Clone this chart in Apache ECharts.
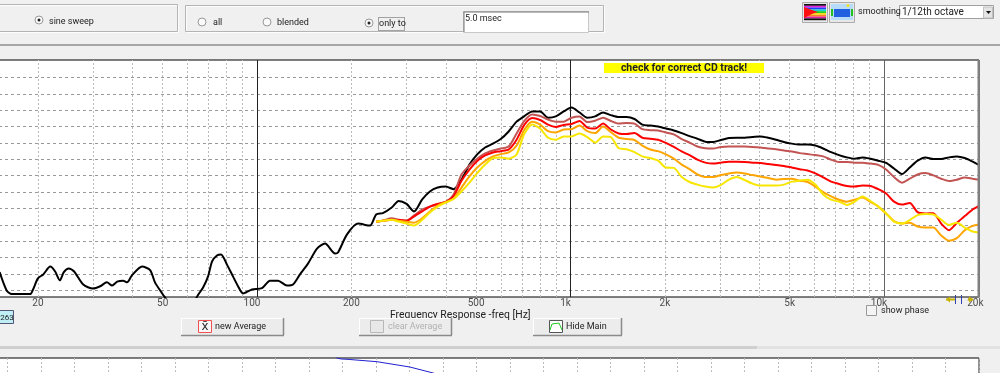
<!DOCTYPE html>
<html>
<head>
<meta charset="utf-8">
<style>
  html, body { margin: 0; padding: 0; background: #f0f0f0; }
  #chart { width: 1000px; height: 373px; }
</style>
<script src="https://cdn.jsdelivr.net/npm/echarts@6/dist/echarts.min.js"></script>
</head>
<body>
<div id="chart"></div>
<script>
// 1/12 octave frequencies shared by the measured curves [Hz]
var freqs = [240, 252, 269, 283, 300, 317, 336, 356, 377, 400,
  424, 449, 476, 504, 534, 566, 599, 635, 673, 713,
  755, 800, 848, 898, 951, 1008, 1068, 1131, 1199, 1270,
  1345, 1425, 1510, 1600, 1695, 1796, 1903, 2016, 2136, 2263,
  2397, 2540, 2691, 2851, 3020, 3200, 3390, 3592, 3805, 4032,
  4271, 4525, 4794, 5080, 5382, 5702, 6041, 6400, 6780, 7184,
  7611, 8063, 8543, 9051, 9589, 10159, 10763, 11404, 12082, 12800,
  13562, 14369, 15222, 16127, 17085, 18102, 19180, 20095];

var black = [23.2, 23.6, 25.3, 27.3, 26.4, 24.1, 27.7, 30.2, 31.4, 31.7,
  30.9, 33.8, 38.4, 41.5, 43.6, 44.8, 46.2, 48.5, 51.5, 53.2,
  54.6, 54.6, 52.7, 53.1, 54.6, 55.8, 54.3, 52.7, 53.1, 54.3,
  53.5, 52.9, 52.9, 52.3, 50.6, 50.3, 50.0, 49.4, 48.8, 48.0,
  47.1, 46.3, 45.4, 45.3, 45.9, 46.5, 46.6, 46.6, 46.8, 47.0,
  46.6, 46.0, 45.3, 44.8, 44.5, 44.5, 44.2, 43.3, 42.2, 41.3,
  40.6, 40.2, 40.6, 40.2, 39.6, 38.9, 37.2, 35.5, 37.5, 39.6,
  40.6, 40.1, 40.1, 40.6, 40.9, 40.4, 39.3, 38.3];

var rose = [21.0, 21.3, 22.0, 21.6, 21.3, 22.9, 24.7, 25.6, 26.4, 27.0,
  29.3, 35.4, 38.1, 40.2, 41.8, 42.7, 43.3, 43.9, 47.9, 51.8,
  53.7, 53.2, 52.1, 51.5, 51.5, 52.7, 53.1, 51.4, 51.8, 52.7,
  51.7, 50.9, 51.1, 50.9, 49.2, 48.9, 48.8, 48.2, 47.6, 46.2,
  45.1, 43.9, 43.4, 43.3, 43.8, 43.9, 43.9, 43.9, 43.8, 43.6,
  43.3, 43.1, 42.7, 42.4, 41.9, 41.6, 41.3, 40.9, 39.9, 39.2,
  39.2, 39.0, 39.0, 38.7, 38.3, 36.9, 34.6, 32.9, 34.1, 35.4,
  35.8, 35.1, 34.1, 33.4, 33.8, 34.5, 34.1, 33.8];

var red = [21.0, 21.3, 21.6, 21.5, 21.3, 22.6, 24.1, 25.6, 26.4, 27.0,
  28.8, 33.5, 36.9, 39.5, 41.2, 42.1, 42.5, 43.0, 46.0, 50.6,
  52.6, 52.0, 50.6, 49.9, 50.5, 50.8, 51.7, 49.7, 49.4, 50.9,
  49.1, 47.9, 47.7, 48.0, 46.6, 46.3, 46.0, 45.0, 43.8, 42.4,
  41.3, 39.9, 39.0, 38.7, 39.0, 39.3, 39.3, 39.2, 39.0, 38.9,
  38.6, 38.3, 38.0, 37.5, 37.0, 36.6, 35.7, 34.5, 33.2, 32.5,
  31.9, 31.7, 32.0, 31.9, 30.9, 29.6, 27.1, 26.2, 26.7, 23.9,
  23.5, 23.6, 20.4, 18.4, 20.7, 22.7, 24.7, 25.8];

var orange = [21.0, 21.3, 21.6, 21.3, 21.0, 20.7, 22.0, 24.1, 25.9, 27.0,
  28.1, 31.4, 34.8, 37.5, 39.5, 40.9, 41.6, 42.1, 44.2, 49.1,
  51.5, 50.6, 48.6, 48.2, 49.1, 49.2, 50.3, 48.6, 48.0, 50.0,
  48.3, 46.6, 46.2, 45.9, 44.2, 43.0, 42.5, 41.5, 40.2, 38.4,
  37.0, 35.4, 34.6, 34.6, 35.2, 35.7, 36.0, 35.7, 35.2, 34.8,
  34.3, 33.8, 34.0, 34.1, 33.5, 33.1, 31.7, 30.0, 28.7, 27.7,
  27.1, 27.7, 28.4, 27.0, 25.6, 23.5, 21.2, 20.4, 20.7, 19.5,
  19.2, 19.2, 16.8, 15.2, 16.0, 18.4, 19.7, 20.1];

var yellow = [21.0, 21.3, 21.6, 21.0, 20.4, 19.8, 21.5, 23.8, 25.6, 26.8,
  27.9, 30.2, 32.9, 35.8, 38.4, 40.4, 40.6, 40.2, 41.5, 47.9,
  50.6, 49.4, 46.6, 46.0, 47.0, 47.0, 47.9, 46.8, 45.1, 47.0,
  46.8, 43.4, 43.1, 42.2, 40.9, 40.4, 39.6, 37.5, 37.4, 34.6,
  33.1, 32.3, 31.7, 31.4, 32.2, 33.8, 34.6, 33.7, 32.6, 32.0,
  32.0, 32.0, 32.3, 33.2, 33.5, 33.8, 32.3, 29.3, 27.7, 27.1,
  26.1, 27.1, 28.7, 27.3, 25.6, 23.5, 21.0, 20.4, 21.5, 23.0,
  23.3, 23.2, 21.6, 20.0, 20.7, 19.2, 18.0, 17.7];

// low end of the black curve, below the gated range
var lowFreqs = [15.1, 15.9, 16.5, 18.9, 19.3, 20.0, 20.8, 21.9, 22.7, 23.5,
  24.2, 25.1, 26.1, 27.9, 30.0, 31.6, 33.2, 34.5, 35.8, 37.4,
  38.5, 39.9, 43.0, 45.6, 47.3, 49.1, 50.5, 54.8, 56.8, 61.1,
  64.7, 67.3, 69.8, 71.9, 74.5, 76.8, 80.2, 83.8, 87.0, 90.2,
  96.4, 103.7, 110, 116.7, 124.6, 130.3, 137.1, 145.4, 155.4, 164.8,
  177.4, 181.3, 193.7, 210, 229.3];
var lowBlack = [5.6, 0, -1.1, -1.1, 0.3, 3.7, 4.9, 7.3, 5.8, 3.1,
  5.6, 6.7, 5.8, 1.8, 0.6, 1.3, 2.5, 1.5, 2.7, 3.0,
  2.5, 4.6, 7.3, 6.2, 2.4, 0, -1.7, -6, -8, -6,
  -1.5, 0.9, 4.3, 8.9, 10.7, 11.0, 7.9, 4.3, 1.3, -0.9,
  0.3, 0.7, 3.0, 3.0, 1.5, 1.8, 4.9, 8.2, 12.8, 14.3,
  11.3, 11.6, 17.1, 20.4, 19.8];

// axis and grid values
var tickHz = [20, 50, 100, 200, 500, 1000, 2000, 5000, 10000, 20000];
var tickLabels = ["20", "50", "100", "200", "500", "1k", "2k", "5k", "10k", "20k"];
var decadeHz = [100, 1000, 10000];
var minorHz = [20, 30, 40, 50, 60, 70, 80, 90, 200, 300, 400, 500, 600, 700, 800, 900,
  2000, 3000, 4000, 5000, 6000, 7000, 8000, 9000];
var levelLines = [0, 5, 10, 15, 20, 25, 30, 35, 40, 45, 50, 55, 60, 65];

// lower panel (phase view, only its top edge is on screen)
var phaseX = [10.8, 10.93, 11.22, 12.03, 13.01, 13.67, 14.2];
var phaseY = [0.5, -0.8, -1.5, -3.7, -9, -14.7, -20];

function zip(xs, ys) {
  return xs.map(function(x, i) {
    return [x, ys[i]];
  });
}

function curve(name, xs, ys, color) {
  return {
    name: name,
    type: "line",
    xAxisIndex: 0,
    yAxisIndex: 0,
    data: zip(xs, ys),
    showSymbol: false,
    symbol: "none",
    smooth: 0.25,
    silent: true,
    animation: false,
    z: 5,
    lineStyle: { color: color, width: 2 }
  };
}

/* ---- window controls ---- */
var FONT = 'Roboto, "Liberation Sans", sans-serif';

function label(text, x, y, opts) {
  opts = opts || {};
  return {
    type: "text",
    x: x,
    y: y,
    z: opts.z || 20,
    silent: true,
    style: {
      text: text,
      fill: opts.color || "#222",
      font: (opts.weight || "normal") + " " + (opts.size || 9) + "px " + FONT,
      textAlign: opts.align || "left",
      textVerticalAlign: "middle"
    }
  };
}

function rect(x, y, w, h, fill, stroke, z) {
  return {
    type: "rect",
    z: z || 10,
    silent: true,
    shape: { x: x, y: y, width: w, height: h },
    style: { fill: fill, stroke: stroke || null, lineWidth: stroke ? 1 : 0 }
  };
}

function line(x1, y1, x2, y2, color, width, z) {
  return {
    type: "line",
    z: z || 11,
    silent: true,
    shape: { x1: x1, y1: y1, x2: x2, y2: y2 },
    style: { stroke: color, lineWidth: width || 1 }
  };
}

// etched group box
function groupBox(x, y, w, h) {
  return [
    rect(x + 0.5, y + 0.5, w, h, "none", "#fdfdfd"),
    rect(x - 0.5, y - 0.5, w, h, "none", "#b4b4b4")
  ];
}

function radio(x, y, checked) {
  var items = [{
    type: "circle", z: 12, silent: true,
    shape: { cx: x, cy: y, r: 4 },
    style: { fill: "#fafafa", stroke: "#999", lineWidth: 1 }
  }];
  if (checked) {
    items.push({
      type: "circle", z: 13, silent: true,
      shape: { cx: x, cy: y, r: 1.5 },
      style: { fill: "#222" }
    });
  }
  return items;
}

function button(x, y, w, h, text, textX, disabled) {
  return [
    rect(x + 0.5, y + 0.5, w, h, "#ececec", null, 15),
    line(x + 0.5, y + 0.5, x + w, y + 0.5, "#fff", 1, 16),
    line(x + 0.5, y + 0.5, x + 0.5, y + h, "#fff", 1, 16),
    line(x, y + h + 0.5, x + w + 1, y + h + 0.5, "#8a8a8a", 1.5, 16),
    line(x + w + 0.5, y, x + w + 0.5, y + h, "#8a8a8a", 1.5, 16),
    label(text, textX, y + h / 2 + 0.5, { z: 17, color: disabled ? "#b0b0b0" : "#222" })
  ];
}

function arrow(x1, x2, y, tipLeft) {
  var tip = tipLeft ? x1 : x2;
  var back = tipLeft ? x1 + 4 : x2 - 4;
  return [
    line(x1, y, x2, y, "#c8b400", 2, 12),
    {
      type: "polygon", z: 13, silent: true,
      shape: { points: [[tip, y], [back, y - 3], [back, y + 3]] },
      style: { fill: "#c8b400" }
    }
  ];
}

function controls() {
  var g = [];
  // top panel
  g = g.concat(groupBox(-5, 5, 183, 27), groupBox(186, 6, 418, 26));
  g = g.concat(radio(39, 20, true), radio(202, 22, false), radio(267, 22, false), radio(369, 23, true));
  g.push(label("sine sweep", 49, 21.5));
  g.push(label("all", 213, 23));
  g.push(label("blended", 277, 23));
  g.push(label("only to", 379, 23.5));
  g.push({
    type: "rect", z: 12, silent: true,
    shape: { x: 378.5, y: 17.5, width: 26, height: 13 },
    style: { fill: "none", stroke: "#555", lineWidth: 1, lineDash: [1, 1] }
  });
  g.push(rect(463.5, 11.5, 125, 21, "#fff", "#c8c8c8", 12));
  g.push(line(463.5, 12, 589, 12, "#777", 1, 13));
  g.push(line(464, 12, 464, 32, "#777", 1, 13));
  g.push(label("5.0 msec", 465, 19));

  // spectrum icons
  g.push(rect(802.5, 2.5, 25, 20, "#e8e8e8", "#aaa", 12));
  var bands = ["#101010", "#e020e0", "#2040ff", "#10d0d0", "#20d020", "#f0e020", "#ff8020", "#e020a0", "#101010"];
  bands.forEach(function(c, i) {
    g.push(rect(804, 4 + i * 1.8, 22, 1.8, c, null, 13));
  });
  g.push({
    type: "polygon", z: 14, silent: true,
    shape: { points: [[804, 7], [812, 10], [818, 12], [812, 14], [804, 18]] },
    style: { fill: "#ff1010" }
  });
  g.push(rect(829.5, 2.5, 25, 20, "#e8e8e8", "#aaa", 12));
  g.push(rect(831, 4, 22, 16, "#b8dcf8", null, 13));
  g.push(rect(834, 9, 16, 8, "#2060e0", null, 14));
  g.push(rect(831, 9, 2, 7, "#20c020", null, 15));
  g.push(rect(851, 9, 2, 7, "#20c020", null, 15));
  g.push({
    type: "circle", z: 15, silent: true,
    shape: { cx: 848, cy: 5.5, r: 1.5 },
    style: { fill: "#f0e020" }
  });

  g.push(label("smoothing", 858, 12));
  g.push(rect(899.5, 5.5, 94, 13, "#fff", "#a0a0a0", 12));
  g.push(label("1/12th octave", 902, 12.5, { size: 10 }));
  g.push(rect(983.5, 7, 9, 11, "#e4e4e4", "#c0c0c0", 13));
  g.push({
    type: "polygon", z: 14, silent: true,
    shape: { points: [[986, 11], [991, 11], [988.5, 14]] },
    style: { fill: "#111" }
  });

  // separators
  g.push(rect(0, 44, 1000, 2, "#a6a6a6", null, 9));
  g.push(rect(0, 346, 757, 3, "#cfcfcf", null, 9));
  g.push(rect(757, 346, 243, 3, "#e2e2e2", null, 9));

  // right edge of the plots is a heavier grey
  g.push(line(978.5, 60, 978.5, 298, "#808080", 2, 12));
  g.push(line(979, 358, 979, 373, "#a0a0a0", 1, 12));

  // banner inside the plot
  g.push(rect(604, 63, 160, 10, "#ffff00", null, 12));
  g.push(label("check for correct CD track!", 684, 68.5, { size: 10.5, weight: "bold", align: "center", z: 13 }));

  // under the plot
  g.push(rect(-0.5, 310.5, 14, 13, "#bfeff5", "#557", 12));
  g.push(label("263", 7, 317.5, { size: 8, align: "center" }));
  g.push(label("Frequency Response -freq [Hz]", 390, 315, { size: 10.4, z: 12 }));
  g = g.concat(button(181, 318, 102, 17, "new Average", 215));
  g.push(rect(198.5, 320.5, 13, 12, "#f6f6f6", "#f05050", 18));
  g.push(label("x\u0304", 205, 326.5, { z: 19, align: "center", size: 13 }));
  g = g.concat(button(359, 318, 92, 17, "clear Average", 388, true));
  g.push(rect(370.5, 320.5, 13, 12, "#e8e8e8", "#b8b8b8", 18));
  g = g.concat(button(533, 318, 88, 17, "Hide Main", 566));
  g.push(rect(549.5, 320.5, 13, 12, "#fff", "#555", 18));
  g.push({
    type: "polyline", z: 19, silent: true,
    shape: { points: [[550, 330], [552, 324], [559, 323], [562, 330]] },
    style: { stroke: "#22cc22", fill: "none", lineWidth: 1 }
  });

  g.push(rect(866.5, 305.5, 10, 10, "#f4f4f4", "#999", 12));
  g.push(label("show phase", 881, 311));

  // range markers
  g = g.concat(arrow(946, 955, 299.5, true), arrow(968, 973, 299.5, false));
  g.push(line(955.5, 295, 955.5, 304, "#3040b0", 1, 14));
  g.push(line(961.5, 295, 961.5, 304, "#3040b0", 1, 14));
  return g;
}

/* ---- main chart ---- */
var chart = echarts.init(document.getElementById("chart"));

var gridLines = [];
levelLines.forEach(function(v) {
  gridLines.push({ yAxis: v, lineStyle: { color: "#999", type: [3, 3], width: 1 } });
});
minorHz.forEach(function(v) {
  gridLines.push({ xAxis: v, lineStyle: { color: "#bbb", type: [2, 2], width: 1 } });
});
decadeHz.forEach(function(v, i) {
  gridLines.push({ xAxis: v, lineStyle: { color: i === 2 ? "#666" : "#222", type: "solid", width: 1 } });
});

// frequency labels sit just below the plot, decades are nudged to the left like the original
var tickData = tickHz.map(function(hz, i) {
  var isDecade = decadeHz.indexOf(hz) >= 0;
  return {
    value: [hz, -1.98],
    label: { formatter: tickLabels[i], offset: [isDecade ? -5 : -3 * (hz === 20000), 0] }
  };
});

var series = [
  {
    name: "grid",
    type: "line",
    data: [],
    silent: true,
    animation: false,
    z: 2,
    markLine: {
      silent: true,
      animation: false,
      symbol: "none",
      label: { show: false },
      data: gridLines
    }
  },
  curve("black", lowFreqs.concat(freqs), lowBlack.concat(black), "#000"),
  curve("rose", freqs, rose, "#c25454"),
  curve("red", freqs, red, "#ff0000"),
  curve("orange", freqs, orange, "#ffa500"),
  curve("yellow", freqs, yellow, "#f7e600"),
  {
    name: "ticks",
    type: "scatter",
    data: tickData,
    symbolSize: 1,
    silent: true,
    animation: false,
    clip: false,
    itemStyle: { color: "rgba(0,0,0,0)" },
    label: {
      show: true,
      position: "bottom",
      distance: 1,
      color: "#222",
      fontFamily: FONT,
      fontSize: 10
    },
    z: 6
  },
  {
    name: "phase",
    type: "line",
    xAxisIndex: 1,
    yAxisIndex: 1,
    data: zip(phaseX, phaseY),
    symbol: "none",
    silent: true,
    animation: false,
    lineStyle: { color: "#2020d0", width: 1 }
  }
];

chart.setOption({
  animation: false,
  backgroundColor: "#f0f0f0",
  grid: [
    { outerBoundsMode: "none", left: -1, top: 60, width: 980, height: 237, show: true, backgroundColor: "#fff", borderColor: "#000", borderWidth: 1 },
    { outerBoundsMode: "none", left: -26, top: 358, width: 1005, height: 40, show: true, backgroundColor: "#fff", borderColor: "#000", borderWidth: 1 }
  ],
  xAxis: [
    {
      type: "log",
      gridIndex: 0,
      min: 15.03,
      max: 20095,
      axisLine: { show: false },
      axisTick: { show: false },
      axisLabel: { show: false },
      splitLine: { show: false },
      minorSplitLine: { show: false }
    },
    {
      type: "value",
      gridIndex: 1,
      min: 0,
      max: 30,
      interval: 1,
      axisLine: { show: false },
      axisTick: { show: false },
      axisLabel: { show: false },
      splitLine: { show: true, lineStyle: { color: "#bbb", type: [2, 2] } }
    }
  ],
  yAxis: [
    {
      type: "value",
      gridIndex: 0,
      min: -1.98,
      max: 70.3,
      axisLine: { show: false },
      axisTick: { show: false },
      axisLabel: { show: false },
      splitLine: { show: false }
    },
    {
      type: "value",
      gridIndex: 1,
      min: -40,
      max: 0,
      axisLine: { show: false },
      axisTick: { show: false },
      axisLabel: { show: false },
      splitLine: { show: false }
    }
  ],
  series: series,
  graphic: { elements: controls() }
});
</script>
</body>
</html>
